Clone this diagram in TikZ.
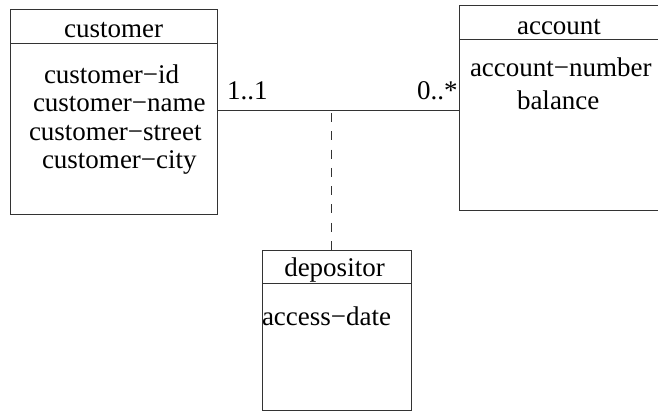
\documentclass[tikz,border=0pt]{standalone}
\usepackage{fontspec}
\setmainfont{Liberation Serif}
\begin{document}
\begin{tikzpicture}[x=1pt,y=-1pt,
  lw/.style={line width=1pt, draw=black!80},
  box/.style={lw, rectangle, inner sep=0pt, outer sep=0pt},
  txt/.style={inner sep=0pt, outer sep=0pt, anchor=base west, font=\fontsize{27}{31}\selectfont},
  ctxt/.style={inner sep=0pt, outer sep=0pt, anchor=base, font=\fontsize{27}{31}\selectfont},
  dashline/.style={lw, dash pattern=on 9pt off 9.3pt}]
\useasboundingbox (0,0) rectangle (658,411);
% boxes
\node[box, minimum width=207pt, minimum height=205pt] (customer) at (113.5,112.5) {};
\node[box, minimum width=203pt, minimum height=205pt] (account) at (560.5,108.5) {};
\node[box, minimum width=149pt, minimum height=159pt] (depositor) at (336.5,330.5) {};
% header separators
\draw[lw] (10,44) -- (217,44);
\draw[lw] (459,40) -- (662,40);
\draw[lw] (262,284) -- (411,284);
% titles
\node[ctxt] (tcust) at (113.5,38) {customer};
\node[ctxt] (tacc) at (559,35) {account};
\node[ctxt] (tdep) at (334.5,277) {depositor};
% attributes
\node[txt] (a1) at (44,84) {customer−id};
\node[txt] (a2) at (33,112) {customer−name};
\node[txt] (a3) at (29,141) {customer−street};
\node[txt] (a4) at (42,169) {customer−city};
\node[txt] (b1) at (470,77) {account−number};
\node[txt] (b2) at (517,110) {balance};
\node[txt] (c1) at (262,325) {access−date};
% multiplicities
\node[txt] (m1) at (227,100) {1..1};
\node[txt] (m2) at (417,100) {0..*};
% association
\coordinate (assoc) at (331,111);
\draw[lw] (customer.east |- assoc) -- (account.west |- assoc);
\draw[dashline] ([yshift=-2pt]assoc) -- (assoc |- depositor.north);
\end{tikzpicture}
\end{document}
